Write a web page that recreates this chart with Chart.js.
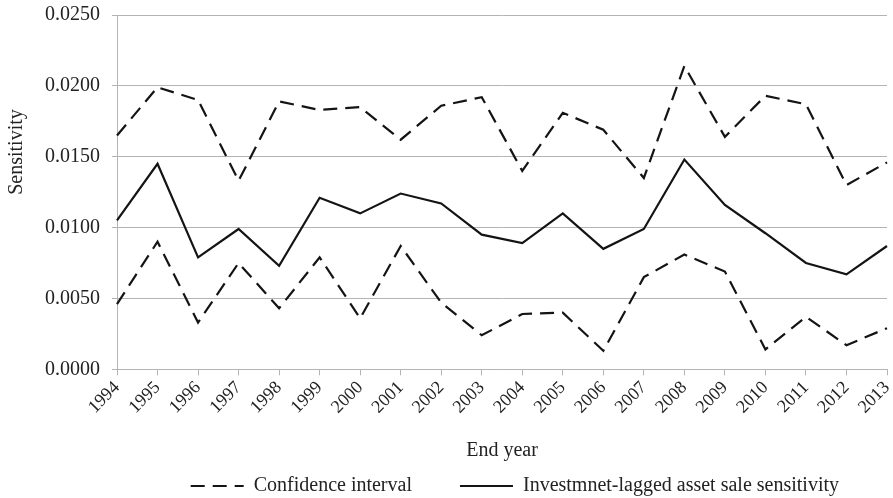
<!DOCTYPE html>
<html>
<head>
<meta charset="utf-8">
<script src="https://cdn.jsdelivr.net/npm/chart.js@4"></script>
<style>
  html, body { margin: 0; padding: 0; background: #fff; }
  #wrap { width: 893px; height: 498px; }
</style>
</head>
<body>
<div id="wrap"><canvas id="Chart"></canvas></div>
<script>
// categories (end year)
var years = ["1994", "1995", "1996", "1997", "1998", "1999", "2000", "2001", "2002", "2003",
             "2004", "2005", "2006", "2007", "2008", "2009", "2010", "2011", "2012", "2013"];

// upper bound of the confidence interval
var ciUpper = [0.0165, 0.0199, 0.0190, 0.0133, 0.0189, 0.0183, 0.0185, 0.0162, 0.0186, 0.0192,
               0.0140, 0.0181, 0.0169, 0.0135, 0.0214, 0.0164, 0.0193, 0.0187, 0.0130, 0.0146];

// investment-lagged asset sale sensitivity
var sensitivity = [0.0105, 0.0145, 0.0079, 0.0099, 0.0073, 0.0121, 0.0110, 0.0124, 0.0117, 0.0095,
                   0.0089, 0.0110, 0.0085, 0.0099, 0.0148, 0.0116, 0.0096, 0.0075, 0.0067, 0.0087];

// lower bound of the confidence interval
var ciLower = [0.0046, 0.0090, 0.0033, 0.0075, 0.0043, 0.0079, 0.0036, 0.0087, 0.0047, 0.0024,
               0.0039, 0.0040, 0.0013, 0.0065, 0.0081, 0.0069, 0.0014, 0.0037, 0.0017, 0.0029];

// y axis
var yMin = 0, yMax = 0.025, yStep = 0.005;

var lineColor = "#141414";
var gridColor = "#b4b4b4";
var textColor = "#222222";
var dash = [14, 8];
var serif = "'Liberation Serif', 'Times New Roman', serif";

// y axis title, drawn a bit above the middle like the original
var yTitle = {
  id: "yTitle",
  afterDraw: function (chart) {
    var c = chart.ctx;
    c.save();
    c.translate(17, 152);
    c.rotate(-Math.PI / 2);
    c.fillStyle = textColor;
    c.font = "20px " + serif;
    c.textAlign = "center";
    c.textBaseline = "middle";
    c.fillText("Sensitivity", 0, 0);
    c.restore();
  }
};

// let layout.padding alone decide the plot edges
function noPad(scale) {
  scale.paddingTop = 0;
  scale.paddingBottom = 0;
  scale.paddingLeft = 0;
  scale.paddingRight = 0;
}

var ctx = document.getElementById("Chart").getContext("2d");
var chart = new Chart(ctx, {
  type: "line",
  data: {
    labels: years,
    datasets: [
      {
        label: "Confidence interval",
        data: ciUpper,
        borderColor: lineColor,
        backgroundColor: lineColor,
        borderWidth: 2.2,
        borderDash: dash,
        pointRadius: 0,
        tension: 0,
        fill: false
      },
      {
        label: "Investmnet-lagged asset sale sensitivity",
        data: sensitivity,
        borderColor: lineColor,
        backgroundColor: lineColor,
        borderWidth: 2.2,
        pointRadius: 0,
        tension: 0,
        fill: false
      },
      {
        label: "Confidence interval (lower)",
        data: ciLower,
        borderColor: lineColor,
        backgroundColor: lineColor,
        borderWidth: 2.2,
        borderDash: dash,
        pointRadius: 0,
        tension: 0,
        fill: false
      }
    ]
  },
  plugins: [yTitle],
  options: {
    responsive: true,
    maintainAspectRatio: false,
    animation: false,
    layout: { autoPadding: false, padding: { top: 15, right: 6, left: 33, bottom: 0 } },
    plugins: {
      tooltip: { enabled: false },
      legend: {
        position: "bottom",
        align: "end",
        fullSize: false,
        maxHeight: 70,
        labels: {
          generateLabels: function (chart) {
            var items = Chart.defaults.plugins.legend.labels.generateLabels(chart);
            items.forEach(function (it) {
              var ds = chart.data.datasets[it.datasetIndex];
              it.lineDash = ds.borderDash || [];
              it.lineWidth = ds.borderWidth;
              it.strokeStyle = ds.borderColor;
            });
            return items;
          },
          filter: function (item) { return item.datasetIndex !== 2; },
          usePointStyle: true,
          pointStyle: "line",
          pointStyleWidth: 53,
          boxHeight: 20,
          padding: 48,
          color: textColor,
          font: { family: serif, size: 20 }
        }
      }
    },
    scales: {
      x: {
        offset: false,
        afterFit: noPad,
        grid: {
          drawOnChartArea: false,
          drawTicks: true,
          tickLength: 6,
          color: gridColor
        },
        border: { color: gridColor, width: 1 },
        ticks: {
          autoSkip: false,
          maxRotation: 45,
          minRotation: 45,
          padding: 2,
          color: textColor,
          font: { family: serif, size: 18 }
        },
        title: {
          display: true,
          text: "End year",
          color: textColor,
          font: { family: serif, size: 20 },
          padding: { top: 19, bottom: -35 }
        }
      },
      y: {
        min: yMin,
        max: yMax,
        afterFit: noPad,
        ticks: {
          stepSize: yStep,
          padding: 12,
          color: textColor,
          font: { family: serif, size: 20 },
          callback: function (v) { return Number(v).toFixed(4); }
        },
        grid: {
          color: gridColor,
          lineWidth: 1,
          tickLength: 5
        },
        border: { color: gridColor, width: 1 }
      }
    }
  }
});
</script>
</body>
</html>
